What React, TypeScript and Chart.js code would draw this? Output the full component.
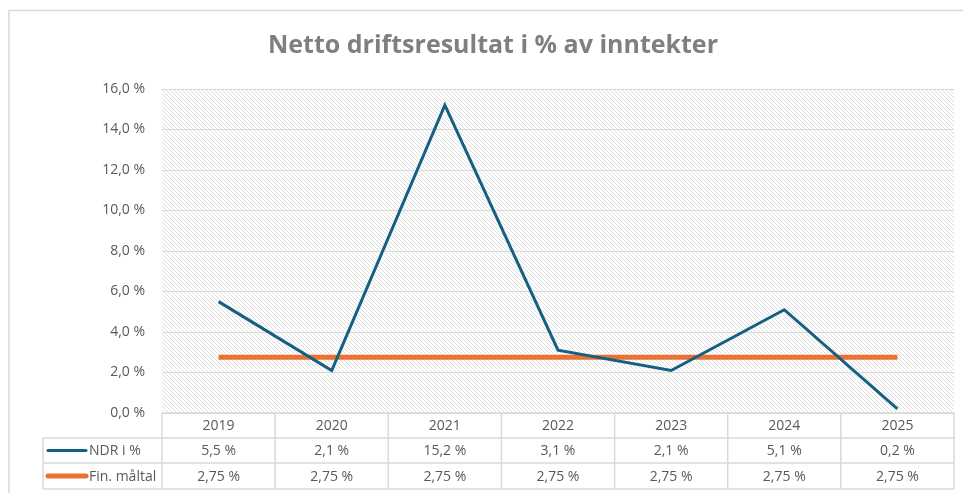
import React, { useEffect, useRef } from "react";
import { Chart, registerables } from "chart.js";

Chart.register(...registerables);

const chartTitle = "Netto driftsresultat i % av inntekter";
const years = ["2019", "2020", "2021", "2022", "2023", "2024", "2025"];
const ndrLabel = "NDR i %";
const ndrValues = [5.5, 2.1, 15.2, 3.1, 2.1, 5.1, 0.2];
const targetLabel = "Fin. måltal";
const targetValues = [2.75, 2.75, 2.75, 2.75, 2.75, 2.75, 2.75];
const yMin = 0;
const yMax = 16;
const yStep = 2;

const BLUE = "#156082";
const ORANGE = "#E97132";
const TEXT = "#595959";
const LINE = "#d9d9d9";
const FONT = "'Open Sans', 'Liberation Sans', sans-serif";

const fmt = (v: number, d: number) => v.toFixed(d).replace(".", ",") + " %";

function makeHatch(ctx: CanvasRenderingContext2D) {
  const c = document.createElement("canvas");
  c.width = 4;
  c.height = 4;
  const g = c.getContext("2d")!;
  g.fillStyle = "#ffffff";
  g.fillRect(0, 0, 4, 4);
  g.fillStyle = "#dedede";
  for (let i = 0; i < 4; i++) g.fillRect(i, i, 1, 1);
  return ctx.createPattern(c, "repeat");
}

const decorPlugin = {
  id: "decor",
  beforeDraw(chart: any) {
    const { ctx, chartArea, width, height } = chart;
    ctx.save();
    ctx.fillStyle = "#ffffff";
    ctx.fillRect(0, 0, width, height);
    ctx.strokeStyle = LINE;
    ctx.lineWidth = 1.5;
    ctx.strokeRect(9, 10.5, width + 10, height + 10);
    const pat = makeHatch(ctx);
    if (pat) {
      ctx.fillStyle = pat;
      ctx.fillRect(chartArea.left, chartArea.top, chartArea.right - chartArea.left, chartArea.bottom - chartArea.top);
    }
    ctx.restore();
  },
  afterDraw(chart: any) {
    const { ctx, chartArea } = chart;
    const xs = chart.scales.x;
    ctx.save();
    // title
    ctx.fillStyle = "#7f7f7f";
    ctx.font = `bold 25px ${FONT}`;
    ctx.textAlign = "center";
    ctx.textBaseline = "middle";
    ctx.fillText(chartTitle, 493, 46);

    // data table
    const top = chartArea.bottom;
    const rowH = [25, 25, 26];
    const r1 = top + rowH[0];
    const r2 = r1 + rowH[1];
    const r3 = r2 + rowH[2];
    const left = chartArea.left;
    const right = chartArea.right;
    const legendLeft = 43;
    const colW = (right - left) / years.length;

    ctx.strokeStyle = LINE;
    ctx.lineWidth = 1.5;
    ctx.beginPath();
    ctx.moveTo(left, top); ctx.lineTo(right, top);
    ctx.moveTo(legendLeft, r1); ctx.lineTo(right, r1);
    ctx.moveTo(legendLeft, r2); ctx.lineTo(right, r2);
    ctx.moveTo(legendLeft, r3); ctx.lineTo(right, r3);
    ctx.moveTo(legendLeft, r1); ctx.lineTo(legendLeft, r3);
    for (let i = 0; i <= years.length; i++) {
      const x = left + i * colW;
      ctx.moveTo(x, top); ctx.lineTo(x, r3);
    }
    ctx.stroke();

    ctx.fillStyle = TEXT;
    ctx.font = `14px ${FONT}`;
    ctx.textAlign = "center";
    ctx.textBaseline = "middle";
    years.forEach((y, i) => {
      const cx = xs.getPixelForValue(i);
      ctx.fillText(y, cx, (top + r1) / 2 + 1);
      ctx.fillText(fmt(ndrValues[i], 1), cx, (r1 + r2) / 2 + 1);
      ctx.fillText(fmt(targetValues[i], 2), cx, (r2 + r3) / 2 + 1);
    });

    // legend keys
    ctx.lineCap = "round";
    ctx.strokeStyle = BLUE;
    ctx.lineWidth = 3;
    ctx.beginPath();
    ctx.moveTo(48, (r1 + r2) / 2); ctx.lineTo(86, (r1 + r2) / 2);
    ctx.stroke();
    ctx.strokeStyle = ORANGE;
    ctx.lineWidth = 5;
    ctx.beginPath();
    ctx.moveTo(48, (r2 + r3) / 2); ctx.lineTo(86, (r2 + r3) / 2);
    ctx.stroke();
    ctx.textAlign = "left";
    ctx.fillStyle = TEXT;
    ctx.fillText(ndrLabel, 89, (r1 + r2) / 2 + 1);
    ctx.fillText(targetLabel, 89, (r2 + r3) / 2 + 1);
    ctx.restore();
  },
};

export default function App() {
  const ref = useRef<HTMLCanvasElement>(null);
  useEffect(() => {
    if (!ref.current) return;
    const chart = new Chart(ref.current, {
      type: "line",
      data: {
        labels: years,
        datasets: [
          {
            label: ndrLabel,
            data: ndrValues,
            borderColor: BLUE,
            backgroundColor: BLUE,
            borderWidth: 3,
            pointRadius: 0,
            tension: 0,
            order: 1,
          },
          {
            label: targetLabel,
            data: targetValues,
            borderColor: ORANGE,
            backgroundColor: ORANGE,
            borderWidth: 5,
            pointRadius: 0,
            tension: 0,
            order: 2,
          },
        ],
      },
      options: {
        responsive: false,
        animation: false,
        layout: { padding: { top: 89, bottom: 80, left: 0, right: 9 } },
        plugins: {
          legend: { display: false },
          title: { display: false },
          tooltip: { enabled: false },
        },
        scales: {
          x: {
            type: "category",
            offset: true,
            display: false,
          },
          y: {
            min: yMin,
            max: yMax,
            border: { display: false },
            grid: { color: LINE, lineWidth: 1, drawTicks: false },
            ticks: {
              stepSize: yStep,
              padding: 17,
              color: TEXT,
              font: { family: FONT, size: 14 },
              callback: (v: any) => fmt(Number(v), 1),
            },
            afterFit: (s: any) => {
              s.width = 162;
            },
          },
        },
      },
      plugins: [decorPlugin],
    });
    return () => chart.destroy();
  }, []);
  return (
    <div style={{ position: "fixed", left: 0, top: 0, width: 963, height: 493 }}>
      <canvas ref={ref} width={963} height={493} />
    </div>
  );
}
